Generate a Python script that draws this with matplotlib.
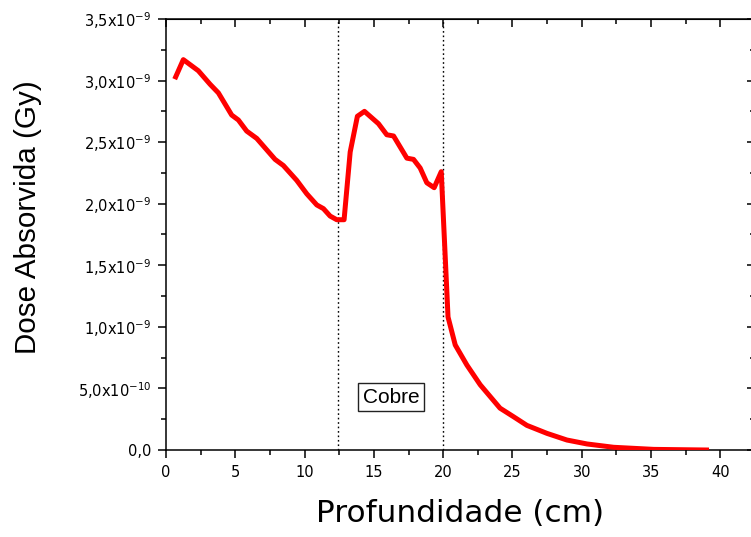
import matplotlib
matplotlib.use("Agg")
import matplotlib.pyplot as plt
from matplotlib.ticker import MultipleLocator, FuncFormatter

depth_cm = [0.7, 1.25, 2.33, 3.18, 3.78, 4.74, 5.22, 5.82, 6.55, 7.87, 8.47, 9.19, 9.43,
            10.16, 10.88, 11.36, 11.84, 12.32, 12.85, 13.29, 13.81, 14.32, 15.33, 15.93,
            16.42, 17.38, 17.86, 18.34, 18.82, 19.35, 19.86, 20.35, 20.87, 21.71, 22.67,
            24.1, 25.08, 26.04, 27.49, 28.93, 30.38, 32.3, 35.19, 39.0]
dose_e9 = [3.03, 3.17, 3.08, 2.97, 2.90, 2.72, 2.68, 2.59, 2.53, 2.36, 2.31, 2.22, 2.19,
           2.08, 1.99, 1.96, 1.90, 1.87, 1.87, 2.42, 2.71, 2.75, 2.65, 2.56,
           2.55, 2.37, 2.36, 2.29, 2.17, 2.13, 2.26, 1.08, 0.853, 0.69, 0.53,
           0.34, 0.27, 0.20, 0.135, 0.081, 0.049, 0.022, 0.005, 0.0]
dose = [v * 1e-9 for v in dose_e9]
copper_bounds = [12.4, 20.0]
region_label = "Cobre"
x_ticks = [0, 5, 10, 15, 20, 25, 30, 35, 40]
y_tick_labels = {0: "0,0",
                 1: r"5,0x10$^{\mathregular{-10}}$",
                 2: r"1,0x10$^{\mathregular{-9}}$",
                 3: r"1,5x10$^{\mathregular{-9}}$",
                 4: r"2,0x10$^{\mathregular{-9}}$",
                 5: r"2,5x10$^{\mathregular{-9}}$",
                 6: r"3,0x10$^{\mathregular{-9}}$",
                 7: r"3,5x10$^{\mathregular{-9}}$"}

plt.rcParams['font.family'] = ['DejaVu Sans']
plt.rcParams['mathtext.fontset'] = 'custom'
plt.rcParams['mathtext.rm'] = 'DejaVu Sans'

W, H = 751, 537
fig = plt.figure(figsize=(W / 100, H / 100), dpi=100)
left, right, top, bottom = 166, 755, 19, 450
ax = fig.add_axes([left / W, 1 - bottom / H, (right - left) / W, (bottom - top) / H])

ax.plot(depth_cm, dose, color='#ff0000', lw=3.6, solid_joinstyle='round', zorder=3)
for b in copper_bounds:
    ax.axvline(b, color='black', lw=1.0, linestyle=(0, (1.2, 2.0)), zorder=2)

ax.text(16.25, 0.43e-9, region_label, fontsize=15, ha='center', va='center',
        family=['Liberation Sans', 'DejaVu Sans'],
        bbox=dict(boxstyle='square,pad=0.22', fc='white', ec='#222222', lw=1.0))

ax.set_xlim(0, 42.5)
ax.set_ylim(0, 3.5e-9)
ax.set_xticks(x_ticks)
ax.xaxis.set_minor_locator(MultipleLocator(2.5))
ax.yaxis.set_major_locator(MultipleLocator(0.5e-9))
ax.yaxis.set_minor_locator(MultipleLocator(0.25e-9))
ax.yaxis.set_major_formatter(FuncFormatter(lambda v, p: y_tick_labels.get(int(round(v / 0.5e-9)), "")))
ax.xaxis.set_major_formatter(FuncFormatter(lambda v, p: "%d" % round(v)))

for s in ax.spines.values():
    s.set_linewidth(1.1)
ax.tick_params(axis='both', which='major', length=6, width=1.1, labelsize=10.5, direction='out')
ax.tick_params(axis='both', which='minor', length=3.6, width=1.1, direction='out')
ax.tick_params(axis='x', which='major', pad=5)
ax.tick_params(axis='y', which='major', pad=4.5)

# mirrored ticks on top/right pointing inward
axt = ax.secondary_xaxis('top')
axt.set_xticks(x_ticks)
axt.xaxis.set_minor_locator(MultipleLocator(2.5))
axt.tick_params(which='major', direction='in', length=6, width=1.1, labeltop=False)
axt.tick_params(which='minor', direction='in', length=3.6, width=1.1)
axr = ax.secondary_yaxis('right')
axr.yaxis.set_major_locator(MultipleLocator(0.5e-9))
axr.yaxis.set_minor_locator(MultipleLocator(0.25e-9))
axr.tick_params(which='major', direction='in', length=6, width=1.1, labelright=False)
axr.tick_params(which='minor', direction='in', length=3.6, width=1.1)

fig.text(460 / W, 1 - 514 / H, "Profundidade (cm)", fontsize=22.4, ha='center', va='center')
fig.text(28 / W, 1 - 217 / H, "Dose Absorvida (Gy)", fontsize=21.3, ha='center', va='center',
         rotation=90, family=['Liberation Sans', 'DejaVu Sans'])

fig.savefig("out.png", dpi=100)
